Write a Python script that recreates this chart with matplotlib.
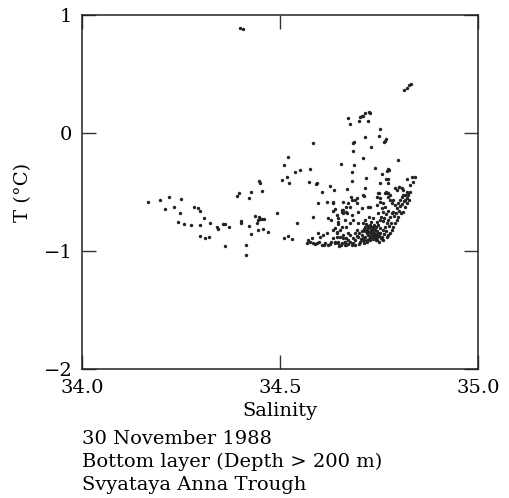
import matplotlib
matplotlib.use('Agg')
import matplotlib.pyplot as plt

plt.rcParams['font.family'] = 'DejaVu Serif'

# axis ticks
sal_ticks = [34.0, 34.5, 35.0]
sal_ticklabels = ['34.0', '34.5', '35.0']
temp_ticks = [-2, -1, 0, 1]
temp_ticklabels = ['\u22122', '\u22121', '0', '1']

caption = ['30 November 1988', 'Bottom layer (Depth > 200 m)', 'Svyataya Anna Trough']

# stations as (salinity, temperature)
west = [
    (34.166, -0.587), (34.197, -0.565), (34.220, -0.545), (34.210, -0.644), (34.233, -0.627),
    (34.251, -0.559), (34.248, -0.681), (34.242, -0.757), (34.257, -0.768), (34.275, -0.782),
    (34.283, -0.630), (34.292, -0.638), (34.299, -0.661), (34.309, -0.723), (34.297, -0.782),
    (34.324, -0.765), (34.299, -0.870), (34.310, -0.887), (34.320, -0.879), (34.341, -0.794),
    (34.343, -0.811), (34.357, -0.774), (34.362, -0.768), (34.372, -0.799), (34.362, -0.960),
    (34.392, -0.534), (34.396, -0.506), (34.422, -0.548), (34.428, -0.500), (34.455, -0.492),
    (34.446, -0.407), (34.449, -0.424), (34.402, -0.743), (34.402, -0.763), (34.422, -0.791),
    (34.437, -0.701), (34.445, -0.737), (34.449, -0.729), (34.454, -0.726), (34.460, -0.731),
    (34.448, -0.714), (34.443, -0.763), (34.428, -0.853), (34.445, -0.825), (34.457, -0.816),
    (34.471, -0.839), (34.415, -0.949), (34.414, -1.034), (34.492, -0.681),
]

outliers = [
    (34.400, 0.887), (34.406, 0.883),
    (34.826, 0.407), (34.820, 0.379), (34.814, 0.364), (34.832, 0.415),
]

upper = [
    (34.726, 0.181), (34.727, 0.167), (34.716, 0.167), (34.706, 0.145), (34.702, 0.134),
    (34.710, 0.147), (34.699, 0.104), (34.722, 0.104), (34.672, 0.124), (34.677, 0.076),
    (34.753, 0.031), (34.751, -0.023), (34.769, -0.051), (34.766, -0.065), (34.764, -0.076),
    (34.716, -0.031), (34.688, -0.076), (34.685, -0.082), (34.584, -0.082), (34.731, -0.119),
    (34.684, -0.153), (34.520, -0.206), (34.510, -0.271), (34.517, -0.376), (34.504, -0.398),
    (34.523, -0.426), (34.539, -0.328), (34.551, -0.314), (34.575, -0.302), (34.710, -0.215),
    (34.799, -0.229), (34.653, -0.260), (34.688, -0.268), (34.741, -0.299), (34.773, -0.308),
    (34.776, -0.314), (34.771, -0.325), (34.683, -0.328), (34.758, -0.347), (34.573, -0.415),
    (34.593, -0.426), (34.590, -0.432), (34.607, -0.497), (34.626, -0.449), (34.636, -0.486),
    (34.670, -0.477), (34.682, -0.409), (34.718, -0.378), (34.716, -0.469), (34.753, -0.421),
    (34.768, -0.393), (34.773, -0.390), (34.773, -0.421), (34.822, -0.393), (34.833, -0.370),
    (34.841, -0.370), (34.835, -0.418), (34.791, -0.469), (34.801, -0.455), (34.795, -0.483),
    (34.769, -0.497), (34.773, -0.511), (34.778, -0.525), (34.811, -0.483), (34.820, -0.497),
    (34.824, -0.511), (34.816, -0.525), (34.750, -0.511), (34.713, -0.531), (34.679, -0.540),
    (34.694, -0.553), (34.801, -0.460), (34.807, -0.469), (34.828, -0.441), (34.710, -0.525),
]

middle = [
    (34.542, -0.765), (34.584, -0.709), (34.510, -0.893), (34.521, -0.873), (34.530, -0.901),
    (34.595, -0.591), (34.618, -0.582), (34.635, -0.582), (34.660, -0.582), (34.622, -0.723),
    (34.628, -0.737), (34.633, -0.658), (34.639, -0.647), (34.656, -0.667), (34.660, -0.653),
    (34.647, -0.771), (34.639, -0.808), (34.643, -0.836), (34.652, -0.822), (34.618, -0.850),
    (34.609, -0.864), (34.601, -0.879), (34.597, -0.850), (34.571, -0.907), (34.576, -0.921),
    (34.580, -0.893), (34.569, -0.929), (34.584, -0.935), (34.593, -0.935), (34.605, -0.949),
    (34.614, -0.929), (34.622, -0.949), (34.630, -0.921), (34.639, -0.935), (34.647, -0.921),
    (34.656, -0.935), (34.664, -0.921), (34.668, -0.949), (34.635, -0.893), (34.643, -0.879),
    (34.660, -0.864), (34.668, -0.893), (34.672, -0.850), (34.643, -0.695), (34.647, -0.723),
    (34.668, -0.625), (34.670, -0.681), (34.635, -0.596), (34.672, -0.596), (34.677, -0.625),
    (34.689, -0.568), (34.694, -0.596), (34.660, -0.681), (34.668, -0.667), (34.681, -0.695),
    (34.698, -0.667), (34.706, -0.638), (34.727, -0.625), (34.744, -0.610), (34.723, -0.625),
    (34.744, -0.540), (34.753, -0.582), (34.765, -0.511), (34.656, -0.653), (34.681, -0.568),
]

arc = [
    (34.748, -0.511), (34.753, -0.553), (34.761, -0.596), (34.757, -0.638), (34.748, -0.681),
    (34.770, -0.511), (34.774, -0.540), (34.778, -0.568), (34.782, -0.596), (34.786, -0.568),
    (34.790, -0.610), (34.795, -0.638), (34.799, -0.596), (34.803, -0.568), (34.807, -0.540),
    (34.811, -0.525), (34.816, -0.568), (34.820, -0.553), (34.824, -0.525), (34.828, -0.497),
    (34.826, -0.568), (34.821, -0.596), (34.816, -0.625), (34.811, -0.667), (34.805, -0.681),
    (34.798, -0.709), (34.795, -0.737), (34.790, -0.765), (34.786, -0.794), (34.782, -0.822),
    (34.778, -0.850), (34.774, -0.864), (34.770, -0.879), (34.761, -0.822), (34.765, -0.794),
    (34.770, -0.765), (34.774, -0.737), (34.778, -0.709), (34.782, -0.681), (34.786, -0.667),
    (34.788, -0.700), (34.792, -0.680), (34.800, -0.660), (34.803, -0.620), (34.808, -0.600),
    (34.812, -0.580), (34.780, -0.760), (34.776, -0.790), (34.768, -0.830), (34.764, -0.860),
    (34.757, -0.900), (34.750, -0.920), (34.760, -0.750), (34.764, -0.720), (34.768, -0.690),
    (34.772, -0.660), (34.766, -0.630), (34.760, -0.670), (34.756, -0.710), (34.752, -0.740),
]

core = [
    (34.710, -0.765), (34.715, -0.794), (34.719, -0.822), (34.723, -0.808), (34.727, -0.780),
    (34.731, -0.751), (34.736, -0.794), (34.740, -0.822), (34.719, -0.850), (34.723, -0.864),
    (34.727, -0.879), (34.731, -0.850), (34.736, -0.864), (34.740, -0.893), (34.744, -0.879),
    (34.748, -0.850), (34.727, -0.907), (34.734, -0.901), (34.715, -0.879), (34.710, -0.893),
    (34.706, -0.864), (34.744, -0.751), (34.748, -0.780), (34.753, -0.808), (34.753, -0.850),
    (34.757, -0.879), (34.761, -0.907), (34.736, -0.723), (34.726, -0.709), (34.715, -0.737),
    (34.635, -0.822), (34.643, -0.850), (34.652, -0.879), (34.660, -0.893), (34.639, -0.921),
    (34.647, -0.935), (34.664, -0.921), (34.672, -0.907), (34.677, -0.864), (34.685, -0.893),
    (34.689, -0.850), (34.694, -0.822), (34.698, -0.879), (34.702, -0.921), (34.681, -0.949),
    (34.668, -0.794), (34.677, -0.765), (34.685, -0.737), (34.698, -0.765), (34.656, -0.794),
    (34.647, -0.751), (34.664, -0.737), (34.700, -0.940), (34.712, -0.930), (34.720, -0.920),
    (34.745, -0.910), (34.690, -0.950), (34.672, -0.940),
    (34.716, -0.830), (34.721, -0.840), (34.725, -0.835), (34.729, -0.820), (34.733, -0.830),
    (34.737, -0.845), (34.741, -0.860), (34.745, -0.865), (34.729, -0.870), (34.733, -0.885),
    (34.738, -0.875), (34.742, -0.905), (34.724, -0.895), (34.719, -0.905), (34.713, -0.910),
    (34.708, -0.905), (34.704, -0.895), (34.730, -0.800), (34.734, -0.810), (34.738, -0.780),
    (34.742, -0.800), (34.746, -0.830), (34.750, -0.870), (34.754, -0.890), (34.722, -0.790),
    (34.718, -0.770), (34.712, -0.810), (34.706, -0.830), (34.700, -0.850), (34.695, -0.870),
    (34.690, -0.910), (34.684, -0.930), (34.676, -0.920), (34.664, -0.950), (34.655, -0.950),
    (34.648, -0.955), (34.627, -0.940), (34.612, -0.945), (34.598, -0.920), (34.588, -0.940),
]

groups = [west, outliers, upper, middle, arc, core]

fig = plt.figure(figsize=(5.09, 4.98), dpi=100)
ax = fig.add_axes([0.161, 0.259, 0.778, 0.711])

for grp in groups:
    sal = [p[0] for p in grp]
    temp = [p[1] for p in grp]
    ax.scatter(sal, temp, s=6, color='#222222', linewidths=0, zorder=3)

ax.set_xlim(34.0, 35.0)
ax.set_ylim(-2, 1)
ax.set_xticks(sal_ticks)
ax.set_xticklabels(sal_ticklabels)
ax.set_yticks(temp_ticks)
ax.set_yticklabels(temp_ticklabels)
ax.tick_params(direction='in', length=10, width=1, top=True, right=True,
               labelsize=14, pad=7, color='#333333')
for sp in ax.spines.values():
    sp.set_linewidth(1.1)
    sp.set_color('#222222')

ax.set_xlabel('Salinity', fontsize=14, labelpad=4)
ax.set_ylabel('T (\u00b0C)', fontsize=14, labelpad=8)

for i, line in enumerate(caption):
    fig.text(0.161, 0.108 - i * 0.0455, line, fontsize=14, ha='left', va='baseline')

fig.savefig('out.png', dpi=100)
